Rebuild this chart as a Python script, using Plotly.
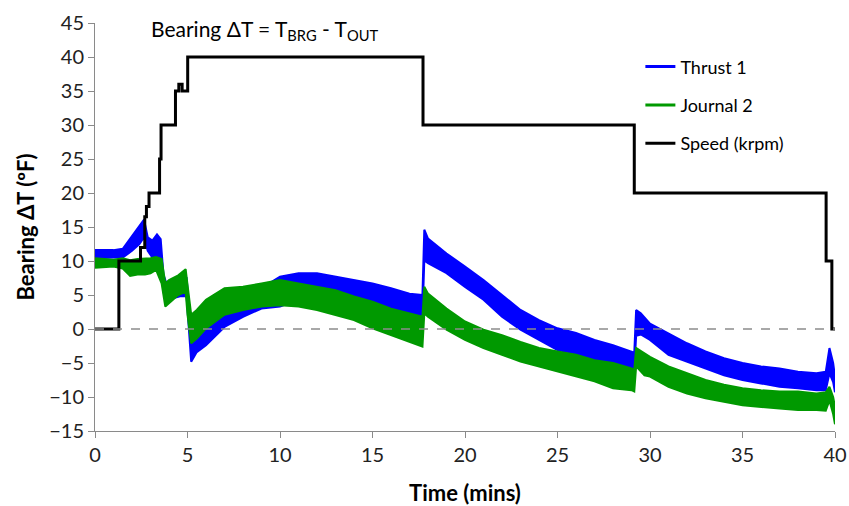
import plotly.graph_objects as go

# ---------------- data ----------------
# Thrust 1 noise band: time (mins), lower and upper edge of the band (degF)
thrust_t  = [0.0, 1.0, 1.5, 2.0, 2.4, 2.65, 2.85, 3.1, 3.35, 3.55, 3.7, 3.85, 4.2, 4.6, 4.95,
             5.05, 5.2, 5.5, 6.0, 7.0, 8.0, 9.0, 10.0, 11.0, 12.0, 13.0, 14.0, 15.0, 16.0,
             17.0, 17.7, 17.8, 18.0, 19.0, 20.0, 21.0, 22.0, 23.0, 24.0, 25.0, 26.0, 27.0,
             28.0, 29.0, 29.15, 29.25, 29.5, 30.0, 31.0, 32.0, 33.0, 34.0, 35.0, 36.0, 37.0,
             38.0, 39.0, 39.5, 39.7, 39.9, 40.0]
thrust_lo = [10.4, 10.5, 10.5, 11.5, 12.5, 13.5, 11.5, 10.5, 10.5, 9.5, 5.5, 3.8, 4.5, 4.8, 4.8,
             0.5, -4.8, -3.4, -2.4, 0.3, 1.8, 3.0, 3.3, 4.3, 5.0, 4.8, 4.3, 3.5, 3.0,
             2.3, 1.6, 10.1, 9.7, 8.2, 6.2, 4.3, 1.8, -0.1, -1.6, -3.1, -3.6, -4.5,
             -5.2, -5.8, -6.0, -1.0, -0.8, -1.6, -3.8, -4.8, -5.8, -6.8, -7.5, -8.0, -8.5,
             -8.7, -9.0, -9.0, -6.5, -7.8, -9.3]
thrust_hi = [11.6, 11.6, 11.8, 13.6, 15.2, 16.1, 13.5, 13.0, 13.9, 13.2, 8.0, 6.8, 7.0, 7.5, 7.5,
             4.5, 0.0, 1.5, 2.0, 4.0, 5.0, 6.0, 7.7, 8.2, 8.2, 7.7, 7.2, 6.7, 6.0,
             5.2, 5.0, 14.6, 13.3, 11.1, 9.2, 7.2, 5.0, 2.8, 1.3, 0.1, -0.6, -1.6,
             -2.4, -3.3, -3.5, 2.8, 2.3, 0.8, -0.6, -2.1, -3.3, -4.3, -5.0, -5.5, -5.8,
             -6.3, -6.5, -6.3, -2.8, -5.0, -7.0]

# Journal 2 noise band
journal_t  = [0.0, 1.0, 1.5, 1.9, 2.3, 2.7, 3.0, 3.3, 3.6, 3.8, 4.0, 4.5, 4.9, 5.0, 5.2,
              5.5, 6.0, 7.0, 8.0, 9.0, 10.0, 11.0, 12.0, 13.0, 14.0, 15.0, 16.0, 17.0,
              17.7, 17.8, 18.0, 19.0, 20.0, 21.0, 22.0, 23.0, 24.0, 25.0, 26.0, 27.0, 28.0,
              29.0, 29.15, 29.25, 29.7, 30.0, 31.0, 32.0, 33.0, 34.0, 35.0, 36.0, 37.0, 38.0,
              39.0, 39.5, 39.7, 39.9, 40.0]
journal_lo = [9.0, 9.2, 8.9, 7.8, 8.0, 8.0, 8.2, 8.7, 6.7, 3.3, 3.8, 5.0, 5.5, 2.1, -2.1,
              -1.4, 0.1, 2.1, 2.8, 3.3, 3.5, 3.3, 2.8, 2.1, 1.3, 0.1, -0.9, -1.9,
              -2.6, 2.3, 1.8, -0.1, -1.6, -2.8, -3.8, -4.8, -5.5, -6.3, -7.0, -7.7, -8.7,
              -9.0, -9.2, -5.5, -6.8, -7.0, -8.5, -9.5, -10.2, -10.7, -11.2, -11.4, -11.7, -11.9,
              -11.9, -12.0, -10.5, -12.5, -14.0]
journal_hi = [10.4, 10.2, 10.4, 10.1, 10.3, 10.4, 10.4, 10.6, 10.3, 6.7, 7.2, 7.9, 8.8, 6.5, 2.1,
              2.8, 4.3, 6.0, 6.2, 6.7, 7.2, 6.7, 6.2, 5.7, 4.8, 4.0, 3.0, 2.3,
              1.8, 6.2, 5.2, 3.0, 1.1, -0.1, -0.9, -1.9, -2.8, -3.3, -3.8, -4.6, -5.0,
              -5.8, -6.0, -2.8, -3.6, -4.1, -5.5, -6.5, -7.5, -8.2, -8.7, -9.0, -9.2, -9.2,
              -9.5, -9.3, -8.5, -10.0, -11.5]

# Speed (krpm) step profile: value holds from each time until the next
speed_t = [0.0, 1.29, 2.46, 2.69, 2.78, 2.92, 3.49, 3.57, 4.35, 4.53, 4.71, 5.01,
           17.73, 29.15, 39.52, 39.83, 40.0]
speed_v = [0, 10, 12, 16.5, 18, 20, 25, 30, 35, 36, 35, 40,
           30, 20, 10, 0, 0]

x_ticks = [0, 5, 10, 15, 20, 25, 30, 35, 40]
y_ticks = [-15, -10, -5, 0, 5, 10, 15, 20, 25, 30, 35, 40, 45]

BLUE = "#0000FF"
GREEN = "#009900"
FONT = "Lato"

fig = go.Figure()

# noise bands drawn as filled envelopes
fig.add_trace(go.Scatter(
    x=thrust_t + thrust_t[::-1], y=thrust_hi + thrust_lo[::-1],
    fill="toself", fillcolor=BLUE, mode="lines",
    line=dict(color=BLUE, width=2), showlegend=False, hoverinfo="skip"))
fig.add_trace(go.Scatter(
    x=journal_t + journal_t[::-1], y=journal_hi + journal_lo[::-1],
    fill="toself", fillcolor=GREEN, mode="lines",
    line=dict(color=GREEN, width=2), showlegend=False, hoverinfo="skip"))

# speed
fig.add_trace(go.Scatter(
    x=speed_t, y=speed_v, mode="lines", line_shape="hv",
    line=dict(color="black", width=3), showlegend=False))

# zero reference line
fig.add_trace(go.Scatter(
    x=[x_ticks[0], x_ticks[-1]], y=[0, 0], mode="lines",
    line=dict(color="#8c8c8c", width=1.5, dash="dash"), showlegend=False, hoverinfo="skip"))

# legend entries
for name, col, grp in [("Thrust 1", BLUE, "a"), ("Journal 2", GREEN, "b"),
                       ("Speed (krpm)", "black", "c")]:
    fig.add_trace(go.Scatter(x=[None], y=[None], mode="lines", name=name,
                             legendgroup=grp, line=dict(color=col, width=3)))

fig.update_layout(
    width=849, height=506,
    margin=dict(l=94.5, r=14, t=23, b=75, autoexpand=False),
    paper_bgcolor="white", plot_bgcolor="white",
    font=dict(family=FONT, size=20, color="#222222"),
    legend=dict(x=0.737, y=0.938, xanchor="left", yanchor="top",
                font=dict(family=FONT, size=18, color="black"),
                bgcolor="rgba(0,0,0,0)", tracegroupgap=12, itemwidth=30),
    annotations=[dict(
        text="Bearing ΔT = T<sub>BRG</sub> - T<sub>OUT</sub>",
        xref="paper", yref="paper", x=0.073, y=0.982,
        xanchor="left", yanchor="middle", showarrow=False,
        font=dict(family=FONT, size=21, color="black"))],
)

fig.update_xaxes(
    range=[0, 40], tickvals=x_ticks, ticks="outside", ticklen=6,
    tickcolor="#8a8a8a", showline=True, linecolor="#8a8a8a", linewidth=1,
    showgrid=False, zeroline=False, automargin=False,
    tickfont=dict(family=FONT, size=20, color="#222222"),
    title=dict(text="<b>Time (mins)</b>", standoff=20,
               font=dict(family=FONT, size=22, color="black")))
fig.update_yaxes(
    range=[-15, 45], tickvals=y_ticks, ticks="outside", ticklen=6,
    tickcolor="#8a8a8a", showline=True, linecolor="#8a8a8a", linewidth=1,
    showgrid=False, zeroline=False, automargin=False,
    tickfont=dict(family=FONT, size=20, color="#222222"),
    title=dict(text="<b>Bearing ΔT (ºF)</b>", standoff=8,
               font=dict(family=FONT, size=22, color="black")))

fig.write_html("out.html", config={"displayModeBar": False},
               post_script="document.body.style.margin='0';document.body.style.overflow='hidden';")
